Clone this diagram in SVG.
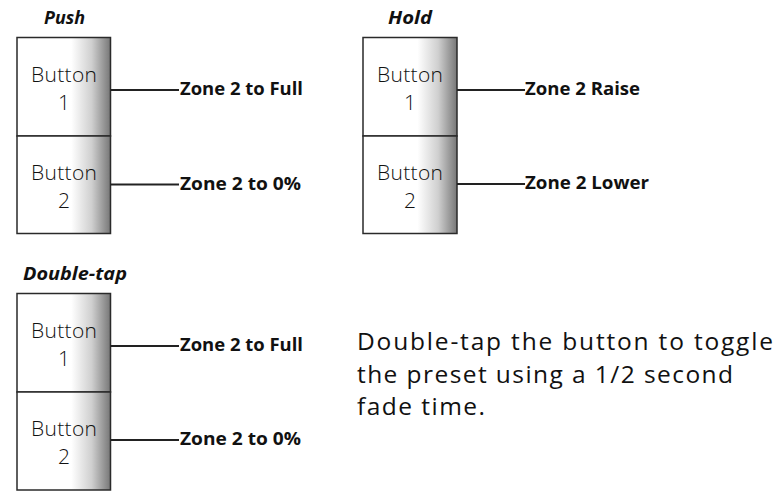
<svg xmlns="http://www.w3.org/2000/svg" width="780" height="501" viewBox="0 0 780 501">
<defs>
<linearGradient id="shade" x1="0" y1="0" x2="1" y2="0">
<stop offset="0" stop-color="#ffffff"/>
<stop offset="0.58" stop-color="#ffffff"/>
<stop offset="0.8" stop-color="#cfcfcf"/>
<stop offset="1" stop-color="#777777"/>
</linearGradient>
</defs>
<style>
.btn{fill:url(#shade);stroke:#2a2a2a;stroke-width:1.5}
.bt{font-family:"Open Sans","Noto Sans",sans-serif;font-weight:300;font-size:21px;fill:#111;text-anchor:middle}
.lbl{font-family:"Open Sans","Noto Sans",sans-serif;font-weight:700;font-size:17px;fill:#111}
.ttl{font-family:"Open Sans","Noto Sans",sans-serif;font-weight:700;font-style:italic;font-size:17px;fill:#111}
.conn line{stroke:#222;stroke-width:2}
.para{font-family:"Open Sans","Noto Sans",sans-serif;font-size:24.5px;fill:#111}
</style>
<rect width="780" height="501" fill="#ffffff"/>
<text class="ttl" x="44" y="24" textLength="41" lengthAdjust="spacingAndGlyphs">Push</text>
<text class="ttl" x="388" y="24" textLength="44" lengthAdjust="spacingAndGlyphs">Hold</text>
<text class="ttl" x="23" y="280" textLength="104" lengthAdjust="spacingAndGlyphs">Double-tap</text>
<g id="push-b1"><rect class="btn" x="17" y="37.5" width="93.5" height="98.5"/><text class="bt" x="64" y="82" textLength="66">Button</text><text class="bt" x="64" y="110">1</text></g>
<g id="push-b2"><rect class="btn" x="17" y="136" width="93.5" height="97.5"/><text class="bt" x="64" y="180" textLength="66">Button</text><text class="bt" x="64" y="208">2</text></g>
<g id="hold-b1"><rect class="btn" x="363" y="37.5" width="94" height="98.5"/><text class="bt" x="410" y="82" textLength="66">Button</text><text class="bt" x="410" y="110">1</text></g>
<g id="hold-b2"><rect class="btn" x="363" y="136" width="94" height="97.5"/><text class="bt" x="410" y="180" textLength="66">Button</text><text class="bt" x="410" y="208">2</text></g>
<g id="dt-b1"><rect class="btn" x="17" y="293.5" width="93.5" height="98.5"/><text class="bt" x="64" y="338" textLength="66">Button</text><text class="bt" x="64" y="366">1</text></g>
<g id="dt-b2"><rect class="btn" x="17" y="392" width="93.5" height="98"/><text class="bt" x="64" y="436" textLength="66">Button</text><text class="bt" x="64" y="464">2</text></g>
<g class="conn" id="connectors">
<line x1="110.5" y1="90" x2="179" y2="90"/>
<line x1="110.5" y1="184.5" x2="179" y2="184.5"/>
<line x1="457" y1="90" x2="525" y2="90"/>
<line x1="457" y1="184" x2="525" y2="184"/>
<line x1="110.5" y1="346" x2="179" y2="346"/>
<line x1="110.5" y1="440" x2="179" y2="440"/>
</g>
<g id="labels">
<text class="lbl" x="180" y="95" textLength="123" lengthAdjust="spacingAndGlyphs">Zone 2 to Full</text>
<text class="lbl" x="180" y="190" textLength="121" lengthAdjust="spacingAndGlyphs">Zone 2 to 0%</text>
<text class="lbl" x="525" y="95" textLength="115" lengthAdjust="spacingAndGlyphs">Zone 2 Raise</text>
<text class="lbl" x="525" y="189" textLength="124" lengthAdjust="spacingAndGlyphs">Zone 2 Lower</text>
<text class="lbl" x="180" y="351" textLength="123" lengthAdjust="spacingAndGlyphs">Zone 2 to Full</text>
<text class="lbl" x="180" y="445" textLength="121" lengthAdjust="spacingAndGlyphs">Zone 2 to 0%</text>
</g>
<g id="note">
<text class="para" x="357" y="350" textLength="416">Double-tap the button to toggle</text>
<text class="para" x="357" y="383" textLength="376">the preset using a 1/2 second</text>
<text class="para" x="357" y="415" textLength="128">fade time.</text>
</g>
</svg>
